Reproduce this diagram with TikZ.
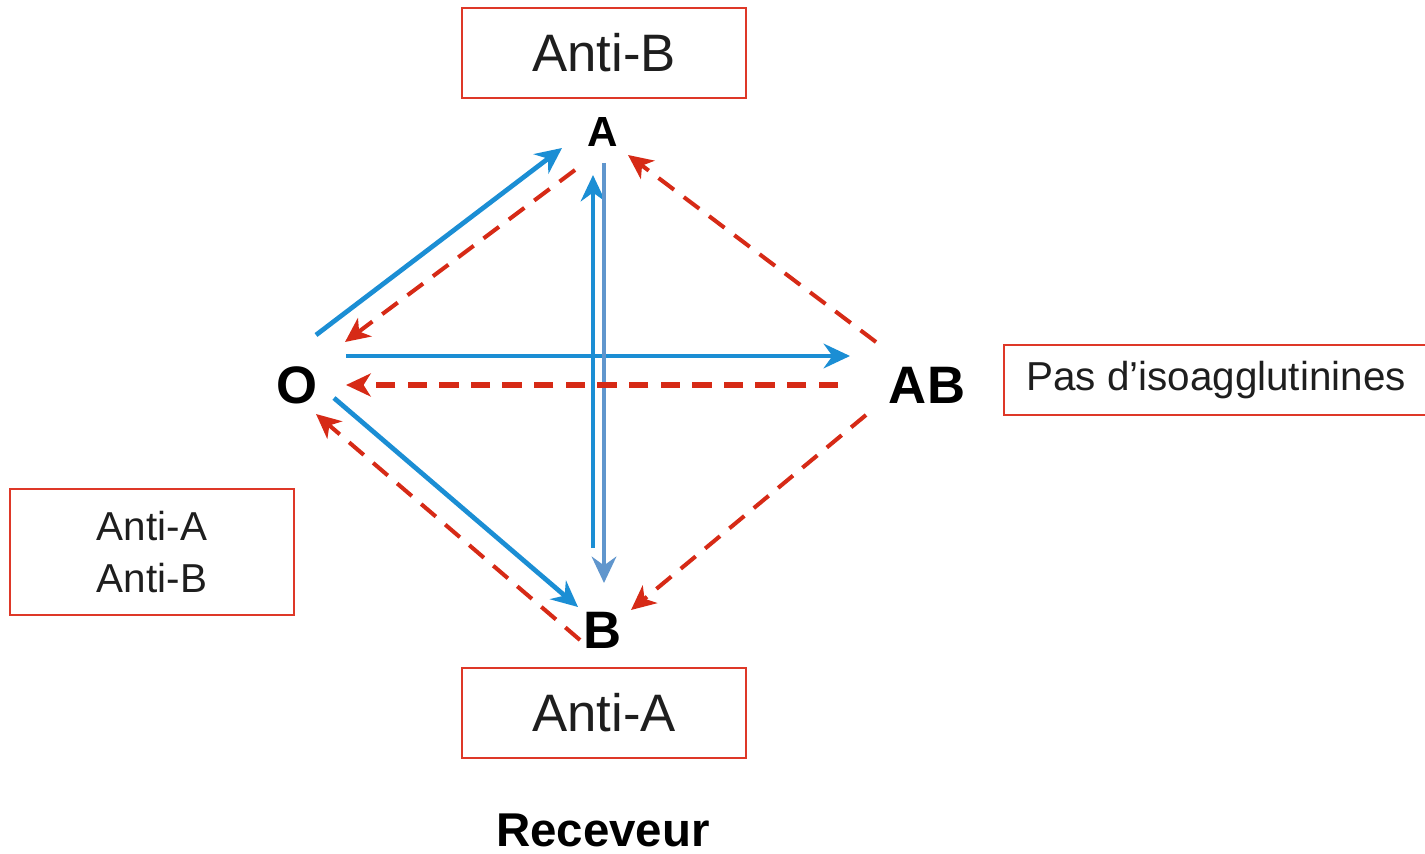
\documentclass[tikz,border=0pt]{standalone}
\usepackage{fontspec}
\setmainfont{Liberation Sans}
\usetikzlibrary{arrows.meta}

\definecolor{donblue}{RGB}{27,142,212}
\definecolor{steel}{RGB}{96,150,205}
\definecolor{isored}{RGB}{214,42,22}
\definecolor{boxred}{RGB}{222,56,40}
\definecolor{ink}{RGB}{30,30,30}

\tikzstyle{group} = [font=\bfseries\fontsize{30}{36}\selectfont, inner sep=0pt]
\tikzstyle{antibox} = [draw=boxred, line width=1.2pt, text=ink, align=center]
\tikzstyle{don} = [draw=donblue, line width=2.7pt, -{Stealth[length=15pt,width=14pt,inset=5pt]}]
\tikzstyle{agglu} = [draw=isored, line width=2.3pt, dash pattern=on 11pt off 7pt, -{Stealth[length=14pt,width=13pt,inset=4pt]}]

\begin{document}
\begin{tikzpicture}[x=0.02cm, y=-0.02cm]
  \useasboundingbox (0,0) rectangle (1425,854);
  % groupes sanguins
  \node (A) at (603,132) [group, font=\bfseries\fontsize{24}{28}\selectfont] {A};
  \node (O) at (297,385) [group] {O};
  \node (AB) at (927,385) [group] {AB};
  \node (B) at (603,630) [group] {B};
  % isoagglutinines
  \node (antiB) at (604,53) [antibox, minimum width=5.68cm, minimum height=1.8cm, font=\fontsize{30}{36}\selectfont] {Anti-B};
  \node (antiA) at (604,713) [antibox, minimum width=5.68cm, minimum height=1.8cm, font=\fontsize{30}{36}\selectfont] {Anti-A};
  \node (antiAB) at (152,552) [antibox, minimum width=5.68cm, minimum height=2.52cm, font=\fontsize{23}{30}\selectfont] {Anti-A\\Anti-B};
  \node (aucun) at (1216,380) [antibox, minimum width=8.5cm, minimum height=1.4cm, font=\fontsize{23}{28}\selectfont] {Pas d'isoagglutinines};
  \node (rec) at (603,830) [font=\bfseries\fontsize{27}{32}\selectfont] {Receveur};
  % dons compatibles
  \draw [don] ([shift={(19,-50)}]O.center) to ([shift={(-41,16)}]A.center);
  \draw [don] ([shift={(49,-29)}]O.center) to ([shift={(-77,-29)}]AB.center);
  \draw [don] ([shift={(37,13)}]O.center) to ([shift={(-25,-23)}]B.center);
  \draw [don] ([shift={(-10,-82)}]B.center) to ([shift={(-10,43)}]A.center);
  \draw [don, draw=steel] ([shift={(1,31)}]A.center) to ([shift={(1,-47)}]B.center);
  % dons incompatibles
  \draw [agglu] ([shift={(-28,38)}]A.center) to ([shift={(48,-43)}]O.center);
  \draw [agglu, line width=3pt] ([shift={(-89,0)}]AB.center) to ([shift={(49,0)}]O.center);
  \draw [agglu] ([shift={(-23,10)}]B.center) to ([shift={(19,29)}]O.center);
  \draw [agglu] ([shift={(-51,-43)}]AB.center) to ([shift={(25,23)}]A.center);
  \draw [agglu] ([shift={(-61,30)}]AB.center) to ([shift={(28,-20)}]B.center);
\end{tikzpicture}
\end{document}
